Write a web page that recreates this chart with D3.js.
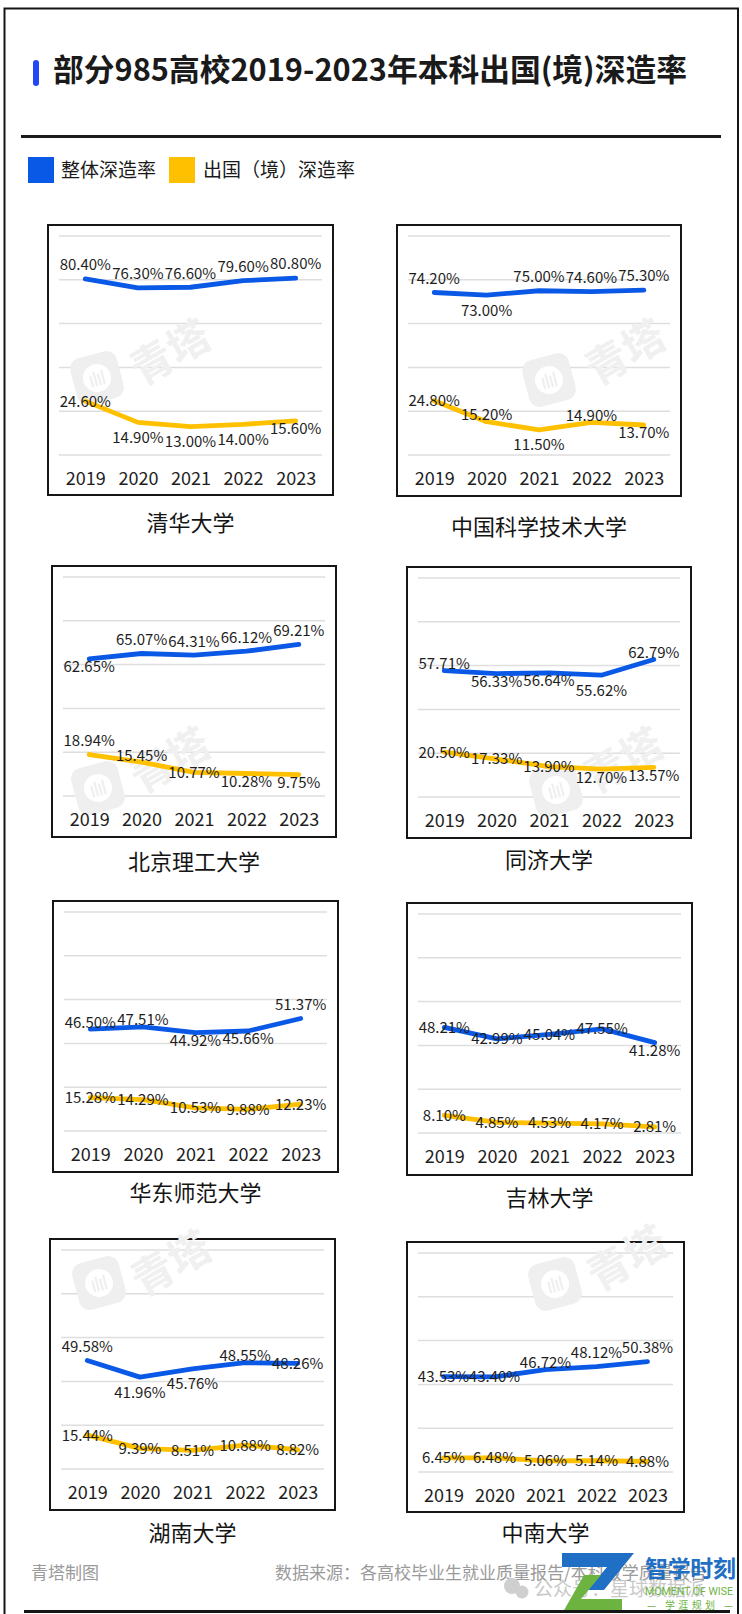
<!DOCTYPE html>
<html>
<head>
<meta charset="utf-8">
<script src="https://cdn.jsdelivr.net/npm/d3@7"></script>
<style>
  body { margin: 0; background: #fff; }
  svg { display: block; font-family: "Noto Sans CJK SC", "Noto Sans", sans-serif; }
</style>
</head>
<body>
<svg id="chart"></svg>
<script>
// ---- data ----
const years = ["2019", "2020", "2021", "2022", "2023"];
const schools = ["清华大学", "中国科学技术大学", "北京理工大学", "同济大学",
                 "华东师范大学", "吉林大学", "湖南大学", "中南大学"];
const overallRate = [
  [80.40, 76.30, 76.60, 79.60, 80.80],
  [74.20, 73.00, 75.00, 74.60, 75.30],
  [62.65, 65.07, 64.31, 66.12, 69.21],
  [57.71, 56.33, 56.64, 55.62, 62.79],
  [46.50, 47.51, 44.92, 45.66, 51.37],
  [48.21, 42.99, 45.04, 47.55, 41.28],
  [49.58, 41.96, 45.76, 48.55, 48.26],
  [43.53, 43.40, 46.72, 48.12, 50.38]
];
const abroadRate = [
  [24.60, 14.90, 13.00, 14.00, 15.60],
  [24.80, 15.20, 11.50, 14.90, 13.70],
  [18.94, 15.45, 10.77, 10.28, 9.75],
  [20.50, 17.33, 13.90, 12.70, 13.57],
  [15.28, 14.29, 10.53, 9.88, 12.23],
  [8.10, 4.85, 4.53, 4.17, 2.81],
  [15.44, 9.39, 8.51, 10.88, 8.82],
  [6.45, 6.48, 5.06, 5.14, 4.88]
];
const seriesNames = ["整体深造率", "出国（境）深造率"];

// ---- layout ----
const W = 742, H = 1614;
const BLUE = "#0a58e6", YELLOW = "#ffc000";

// panel boxes and title offset under each box
const frames = [
  {x: 48,  y: 225,  w: 285, h: 270, ty: 28},
  {x: 397, y: 225,  w: 284, h: 271, ty: 31},
  {x: 52,  y: 566,  w: 284, h: 271, ty: 25},
  {x: 407, y: 567,  w: 284, h: 271, ty: 22},
  {x: 53,  y: 901,  w: 285, h: 271, ty: 21},
  {x: 407, y: 903,  w: 285, h: 272, ty: 23},
  {x: 50,  y: 1239, w: 285, h: 271, ty: 23},
  {x: 407, y: 1242, w: 277, h: 270, ty: 21}
];
// where each data label sits relative to its point
const labelShift = {A: -14, a: -7, c: 0, b: 8, B: 15};
const overallLabelPos = ["AAAAA", "ABAAA", "bAAAA", "abbBa", "aabbA", "ccccb", "ABBac", "ccaAA"];
const abroadLabelPos  = ["cBBBb", "caBab", "Aacbb", "cccbb", "ccccc", "ccccc", "ccccc", "ccccc"];
// faint "青塔" watermarks: icon centre, text centre
const watermarks = [
  [97, 378, 170, 352], [549, 380, 625, 352], [98, 788, 170, 760],
  [556, 790, 623, 760], [99, 1283, 171, 1263], [555, 1284, 627, 1258]
];

const svg = d3.select("#chart").attr("width", W).attr("height", H);
svg.append("rect").attr("width", W).attr("height", H).attr("fill", "#fff");

// outer frame
svg.append("path")
  .attr("d", "M4.5,1614V8.5H738V1614")
  .attr("fill", "none").attr("stroke", "#151515").attr("stroke-width", 2);

// title
svg.append("rect").attr("x", 33).attr("y", 60).attr("width", 6).attr("height", 26)
  .attr("rx", 3).attr("fill", "#2447f5");
const title = svg.append("text")
  .attr("x", 53).attr("y", 70 + 0.37 * 30)
  .attr("font-size", 30).attr("font-weight", 700).attr("fill", "#1a1a1a")
  .text("部分985高校2019-2023年本科出国(境)深造率");
const tl = title.node().getComputedTextLength();
const fs = 30 * 634 / tl;
title.attr("font-size", fs).attr("y", 70 + 0.37 * fs);

// separator
svg.append("line").attr("x1", 21).attr("x2", 721).attr("y1", 136.5).attr("y2", 136.5)
  .attr("stroke", "#1a1a1a").attr("stroke-width", 3);

// legend
const legend = svg.append("g");
[[28, 61], [169, 203]].forEach(([rx, tx], i) => {
  legend.append("rect").attr("x", rx).attr("y", 157).attr("width", 26).attr("height", 26)
    .attr("fill", i === 0 ? BLUE : YELLOW);
  legend.append("text").attr("x", tx).attr("y", 170 + 0.37 * 19)
    .attr("font-size", 19).attr("fill", "#1a1a1a").text(seriesNames[i]);
});

// watermarks behind the lines
function watermark(g, ix, iy, tx, ty) {
  const ic = g.append("g").attr("transform", `translate(${ix},${iy}) rotate(-15)`);
  ic.append("rect").attr("x", -24).attr("y", -24).attr("width", 48).attr("height", 48)
    .attr("rx", 11).attr("fill", "#efefef");
  ic.append("circle").attr("r", 14).attr("fill", "#fff");
  [-6, -2, 2, 6].forEach((bx, k) => {
    ic.append("line").attr("x1", bx).attr("x2", bx)
      .attr("y1", -(k % 2 ? 7 : 4)).attr("y2", 8)
      .attr("stroke", "#efefef").attr("stroke-width", 2.2);
  });
  g.append("text").attr("transform", `translate(${tx},${ty}) rotate(-30)`)
    .attr("text-anchor", "middle").attr("y", 0.37 * 42)
    .attr("font-size", 42).attr("font-weight", 700).attr("fill", "#f0f0f0")
    .text("青塔");
}

schools.forEach((name, i) => {
  const f = frames[i];
  const g = svg.append("g");

  g.append("rect").attr("x", f.x).attr("y", f.y).attr("width", f.w).attr("height", f.h)
    .attr("fill", "#fff").attr("stroke", "#161616").attr("stroke-width", 2);

  const x = d3.scalePoint().domain(years).range([f.x + 11, f.x + f.w - 11]).padding(0.5);
  const y = d3.scaleLinear().domain([0, 100]).range([f.y + 230, f.y + 11]);

  g.selectAll("line.grid").data(y.ticks(5)).join("line").attr("class", "grid")
    .attr("x1", f.x + 11).attr("x2", f.x + f.w - 11)
    .attr("y1", d => y(d)).attr("y2", d => y(d))
    .attr("stroke", "#dedede").attr("stroke-width", 1.5);

  watermarks.forEach(w => {
    if (w[0] > f.x && w[0] < f.x + f.w && w[1] > f.y && w[1] < f.y + f.h) {
      watermark(g, w[0], w[1], w[2], w[3]);
    }
  });

  const xAxis = g.append("g")
    .attr("transform", `translate(0,${f.y + 230})`)
    .call(d3.axisBottom(x).tickSize(0).tickPadding(17.5));
  xAxis.select(".domain").remove();
  xAxis.selectAll("text")
    .attr("font-size", 18).attr("fill", "#1e1e1e")
    .attr("font-family", '"Noto Sans CJK SC", "Noto Sans", sans-serif');

  const line = d3.line().x((d, j) => x(years[j])).y(d => y(d));
  [[abroadRate[i], YELLOW], [overallRate[i], BLUE]].forEach(([vals, col]) => {
    g.append("path").datum(vals).attr("d", line)
      .attr("fill", "none").attr("stroke", col).attr("stroke-width", 4.8)
      .attr("stroke-linejoin", "round").attr("stroke-linecap", "round");
  });

  [[overallRate[i], overallLabelPos[i]], [abroadRate[i], abroadLabelPos[i]]].forEach(([vals, pos]) => {
    g.selectAll(null).data(vals).join("text")
      .attr("x", (d, j) => x(years[j]))
      .attr("y", (d, j) => y(d) + labelShift[pos[j]] + 0.36 * 15)
      .attr("text-anchor", "middle").attr("font-size", 15).attr("fill", "#1e1e1e")
      .text(d => d.toFixed(2) + "%");
  });

  g.append("text")
    .attr("x", f.x + f.w / 2).attr("y", f.y + f.h + f.ty + 0.37 * 22)
    .attr("text-anchor", "middle").attr("font-size", 22).attr("fill", "#141414")
    .text(name);
});

// footer
svg.append("text").attr("x", 31).attr("y", 1573 + 0.37 * 17)
  .attr("font-size", 17).attr("fill", "#9a9a9a").text("青塔制图");
svg.append("text").attr("x", 275).attr("y", 1573 + 0.37 * 17)
  .attr("font-size", 17).attr("fill", "#9a9a9a")
  .text("数据来源：各高校毕业生就业质量报告/本科教学质量报告");

// wechat overlay
const wx = svg.append("g").attr("fill", "#cfcfcf");
wx.append("circle").attr("cx", 512).attr("cy", 1586).attr("r", 8);
wx.append("circle").attr("cx", 522).attr("cy", 1592).attr("r", 6.5);
svg.append("text").attr("x", 534).attr("y", 1589 + 0.37 * 19)
  .attr("font-size", 19).attr("fill", "#c4c4c4").attr("opacity", 0.9)
  .text("公众号：星球数据派");

// logo
svg.append("polygon")
  .attr("points", "562,1553 634,1553 604,1590 588,1590 607,1567 562,1567")
  .attr("fill", "#1f6fc4");
svg.append("polygon")
  .attr("points", "584,1575 601,1575 581,1599 622,1599 622,1612 563,1612")
  .attr("fill", "#6cb33f");
svg.append("text").attr("x", 645).attr("y", 1568 + 0.37 * 23)
  .attr("font-size", 23).attr("font-weight", 700).attr("fill", "#1f6fc4")
  .attr("textLength", 91).text("智学时刻");
svg.append("text").attr("x", 645).attr("y", 1591 + 0.36 * 11)
  .attr("font-size", 11).attr("fill", "#6cb33f").attr("font-family", "Roboto, sans-serif")
  .attr("textLength", 88).attr("lengthAdjust", "spacingAndGlyphs").text("MOMENT OF WISE");
svg.append("text").attr("x", 647).attr("y", 1605 + 0.37 * 10)
  .attr("font-size", 10).attr("fill", "#6cb33f")
  .attr("textLength", 86).text("— 学涯规划 —");

// bottom rule
svg.append("line").attr("x1", 24).attr("x2", 730).attr("y1", 1611.5).attr("y2", 1611.5)
  .attr("stroke", "#151515").attr("stroke-width", 3);
</script>
</body>
</html>
